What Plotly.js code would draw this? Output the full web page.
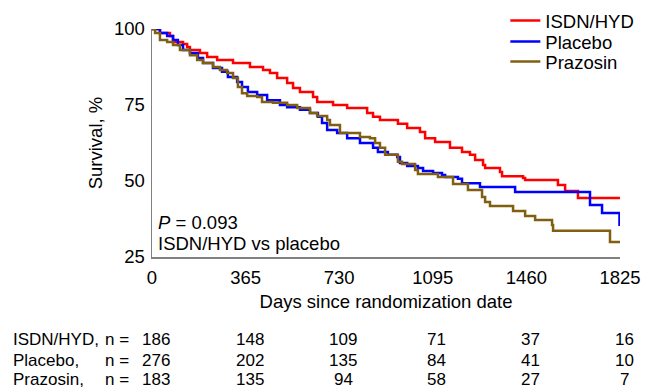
<!DOCTYPE html>
<html>
<head>
<meta charset="utf-8">
<script src="https://cdn.plot.ly/plotly-3.0.1.min.js"></script>
<style>html,body{margin:0;padding:0;background:#fff;}#chart{width:648px;height:390px;}</style>
</head>
<body>
<div id="chart"></div>
<script>
// Kaplan-Meier step curves (day of drop, survival % after drop)
const isdnDays = [0,31,70,82,121,137,148,187,215,254,316,382,433,460,488,527,550,577,628,644,706,761,839,862,889,959,995,1045,1065,1104,1162,1209,1240,1260,1291,1299,1357,1365,1447,1455,1583,1611,1661,1825];
const isdnSurv = [100,98.7,97.7,95.7,95.1,94.1,93.1,92.1,90.8,89.8,88.8,87.5,86.5,85.5,83.9,82.2,80.6,79.3,77.6,76.0,75.0,74.0,72.4,71.1,70.1,68.8,67.4,66.1,64.1,62.8,60.9,59.5,58.6,56.9,55.3,54.3,53.0,51.6,51.0,50.3,48.7,46.7,44.4,44.4];

const placeboDays = [0,31,59,82,101,121,148,179,199,238,273,296,332,351,374,410,449,499,527,577,616,647,663,683,722,761,811,862,881,920,956,967,995,1037,1057,1096,1131,1143,1193,1209,1279,1416,1708,1755,1823];
const placeboSurv = [100,98.7,97.7,96.4,94.7,93.1,92.1,90.5,88.8,87.2,85.9,84.2,82.6,80.9,79.3,78.3,76.6,75.0,74.3,73.4,72.4,71.1,69.1,66.8,65.8,64.1,62.5,60.9,59.5,58.6,57.9,55.9,54.9,54.3,53.3,52.6,52.0,51.3,50.7,49.3,48.0,46.4,42.1,39.5,35.2];

const prazDays = [0,12,31,59,82,109,148,176,199,238,265,293,316,335,351,371,410,429,472,527,566,616,644,683,694,733,811,850,870,889,909,959,975,1026,1037,1115,1174,1232,1287,1299,1318,1408,1455,1494,1560,1564,1786,1825];
const prazSurv = [100,98.7,96.4,95.7,94.7,93.1,91.4,89.8,88.8,87.5,86.5,85.5,83.9,80.9,78.9,78.0,77.6,76.0,75.7,75.0,74.0,72.4,71.4,70.1,68.4,65.8,64.5,64.1,62.5,60.9,58.6,56.3,55.6,53.6,52.3,51.3,49.0,47.0,44.7,43.1,41.8,40.1,38.5,37.2,35.5,33.6,29.9,29.9];

const xTicks = [0,365,730,1095,1460,1825];
const yTicks = [25,50,75,100];

const riskGroups = ["ISDN/HYD,", "Placebo,", "Prazosin,"];
const riskISDN = [186,148,109,71,37,16];
const riskPlacebo = [276,202,135,84,41,10];
const riskPraz = [183,135,94,58,27,7];
const riskRows = [riskISDN, riskPlacebo, riskPraz];

const FONT = "Liberation Sans, Arial, sans-serif";
const FS = 18.5;
const TFS = 17;

const traces = [
  {x: isdnDays, y: isdnSurv, name: "ISDN/HYD", legend: "legend", mode: "lines", line: {shape: "hv", color: "#ff0000", width: 2.5}, cliponaxis: false},
  {x: placeboDays, y: placeboSurv, name: "Placebo", legend: "legend2", mode: "lines", line: {shape: "hv", color: "#0000ff", width: 2.5}, cliponaxis: false},
  {x: prazDays, y: prazSurv, name: "Prazosin", legend: "legend3", mode: "lines", line: {shape: "hv", color: "#806010", width: 2.5}, cliponaxis: false}
];

const rowY = [-0.364, -0.452, -0.539];
const annotations = [
  {xref: "paper", yref: "paper", x: 0.009, y: 0.152, xanchor: "left", yanchor: "middle", showarrow: false,
   text: "<i>P</i> = 0.093", font: {family: FONT, size: FS, color: "#000"}},
  {xref: "paper", yref: "paper", x: 0.009, y: 0.06, xanchor: "left", yanchor: "middle", showarrow: false,
   text: "ISDN/HYD vs placebo", font: {family: FONT, size: FS, color: "#000"}}
];
riskGroups.forEach((g, i) => {
  annotations.push({xref: "paper", yref: "paper", x: -0.299, y: rowY[i], xanchor: "left", yanchor: "middle",
    showarrow: false, borderpad: 0, text: g, font: {family: FONT, size: TFS, color: "#000"}});
  annotations.push({xref: "paper", yref: "paper", x: -0.046, y: rowY[i], xanchor: "right", yanchor: "middle",
    showarrow: false, borderpad: 0, text: "n =", font: {family: FONT, size: TFS, color: "#000"}});
  riskRows[i].forEach((v, j) => {
    annotations.push({xref: "x", yref: "paper", x: xTicks[j], xshift: 4, y: rowY[i], xanchor: "center", yanchor: "middle",
      showarrow: false, borderpad: 0, text: String(v), font: {family: FONT, size: TFS, color: "#000"}});
  });
});

const legBase = {x: 0.755, xanchor: "left", yanchor: "top", bgcolor: "rgba(0,0,0,0)",
  font: {family: FONT, size: FS, color: "#000"}, itemwidth: 30};

const layout = {
  width: 648, height: 390,
  margin: {l: 152, r: 28, t: 29, b: 133, pad: 0, autoexpand: false},
  paper_bgcolor: "#fff", plot_bgcolor: "#fff",
  font: {family: FONT, size: FS, color: "#000"},
  showlegend: true,
  legend: Object.assign({}, legBase, {y: 1.118}),
  legend2: Object.assign({}, legBase, {y: 1.026}),
  legend3: Object.assign({}, legBase, {y: 0.939}),
  xaxis: {range: [0, 1825], tickvals: xTicks, ticktext: xTicks.map(String), showgrid: false, zeroline: false,
    showline: true, linecolor: "#808080", linewidth: 1.5, ticks: "outside", ticklen: 3, tickcolor: "rgba(0,0,0,0)",
    tickfont: {family: FONT, size: FS}, title: {text: "Days since randomization date", font: {family: FONT, size: FS}, standoff: 8}},
  yaxis: {range: [25, 100], tickvals: yTicks, ticktext: yTicks.map(String), showgrid: false, zeroline: false,
    showline: true, linecolor: "#808080", linewidth: 1.5, ticks: "outside", ticklen: 2, tickcolor: "rgba(0,0,0,0)",
    tickfont: {family: FONT, size: FS}, title: {text: "Survival, %", font: {family: FONT, size: FS}, standoff: 6}},
  annotations: annotations
};

Plotly.newPlot("chart", traces, layout, {displayModeBar: false, staticPlot: true});
</script>
</body>
</html>
